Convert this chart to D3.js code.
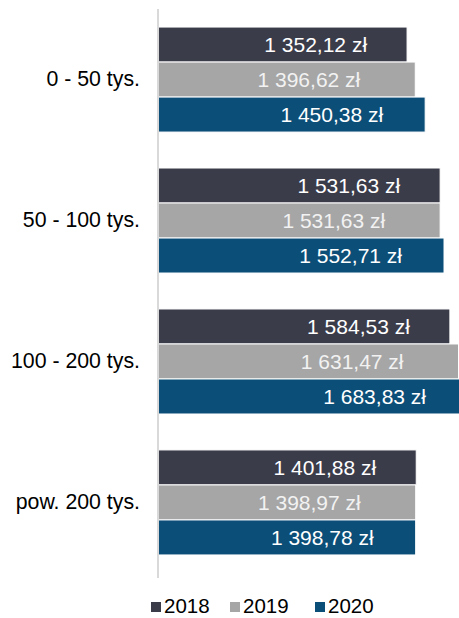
<!DOCTYPE html>
<html><head><meta charset="utf-8">
<script src="https://cdn.jsdelivr.net/npm/d3@7"></script>
<style>body{margin:0;background:#fff}svg{display:block}</style>
</head><body><svg id="c" width="459" height="618"></svg>
<script>
const categories = ["0 - 50 tys.", "50 - 100 tys.", "100 - 200 tys.", "pow. 200 tys."];
const seriesNames = ["2018", "2019", "2020"];
const values2018 = [1352.12, 1531.63, 1584.53, 1401.88];
const values2019 = [1396.62, 1531.63, 1631.47, 1398.97];
const values2020 = [1450.38, 1552.71, 1683.83, 1398.78];
const seriesValues = [values2018, values2019, values2020];
const colors = ["#3b3c4a", "#a6a6a6", "#0b4e78"];

const svg = d3.select("#c");
const font = "Liberation Sans, Arial, sans-serif";
const x0 = 158;
const x = d3.scaleLinear().domain([0, 1000]).range([x0, x0 + 184.2]);
const y = d3.scaleBand().domain(categories).range([9, 573]).paddingInner(0.255).paddingOuter(0.128);
const ys = d3.scaleBand().domain(seriesNames).range([0, y.bandwidth()]);

const fmt = v => {
  const s = v.toFixed(2).replace(".", ",");
  const [i, d] = s.split(",");
  return i.replace(/\B(?=(\d{3})+(?!\d))/g, " ") + "," + d + " zł";
};
const labelOffset = [40, 55, 42];

const g = svg.append("g");
seriesNames.forEach((s, si) => {
  const data = categories.map((c, ci) => ({c, v: seriesValues[si][ci]}));
  g.selectAll(null).data(data).enter().append("rect")
    .attr("x", x(0)).attr("y", d => y(d.c) + ys(s))
    .attr("width", d => x(d.v) - x(0)).attr("height", ys.bandwidth())
    .attr("fill", colors[si]).attr("stroke", "#ffffff").attr("stroke-width", 1);
  g.selectAll(null).data(data).enter().append("text")
    .attr("x", d => Math.min(x(d.v), 468) - labelOffset[si])
    .attr("y", d => y(d.c) + ys(s) + ys.bandwidth() / 2)
    .attr("dy", "0.36em").attr("text-anchor", "end")
    .attr("fill", si === 1 ? "#f2f2f2" : "#ffffff")
    .style("font-family", font).style("font-size", "21px")
    .text(d => fmt(d.v));
});

// axis line
const yAxis = d3.axisLeft(y).tickSize(0).tickPadding(18);
const ag = svg.append("g").attr("transform", `translate(${x0},0)`).call(yAxis);
ag.select(".domain").attr("stroke", "#d9d9d9").attr("stroke-width", 2).attr("d", "M0,9V578");
ag.selectAll("text").style("font-family", font).style("font-size", "21.3px").attr("fill", "#000");

// legend
const legendX = [151, 230, 315];
const lg = svg.append("g");
seriesNames.forEach((s, i) => {
  lg.append("rect").attr("x", legendX[i]).attr("y", 602).attr("width", 10).attr("height", 10).attr("fill", colors[i]);
  lg.append("text").attr("x", legendX[i] + 13).attr("y", 606).attr("dy", "0.36em")
    .style("font-family", font).style("font-size", "20.5px").attr("fill", "#000").text(s);
});
</script></body></html>
